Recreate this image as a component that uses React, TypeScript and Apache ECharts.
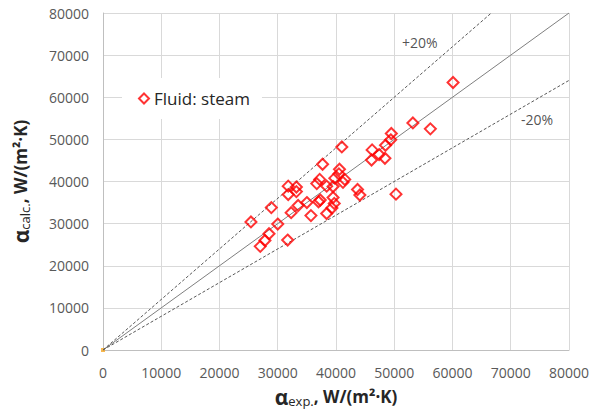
import React, { useEffect, useRef } from "react";
import * as echarts from "echarts";

// Measured vs. calculated heat transfer coefficient, steam
const expAlpha = [
  60100, 53200, 56200, 49500, 49400, 48500, 46200, 47400, 46100, 48400,
  50300, 41000, 37700, 40600, 40500, 41500, 39800, 41200, 37200, 36700,
  38400, 39500, 43700, 44100, 31800, 33200, 31800, 33200, 37300, 35000,
  39500, 39700, 37000, 33500, 32300, 35700, 38400, 39300, 28900, 25400,
  30000, 28500, 27800, 27000, 31700,
];
const calcAlpha = [
  63500, 53900, 52500, 51400, 49900, 48600, 47500, 46400, 45100, 45500,
  37000, 48200, 44100, 42900, 41800, 40500, 40800, 39800, 40500, 39500,
  38900, 38800, 38100, 36800, 38900, 38700, 36900, 37600, 35600, 35000,
  36200, 34800, 35200, 34300, 32600, 31900, 32400, 33700, 33800, 30400,
  29900, 27600, 26000, 24600, 26100,
];

const axisMax = 80000;
const axisStep = 10000;
const deviation = 0.2;
const bandLabels = ["+20%", "-20%"];
const bandLabelAt: [number, number][] = [
  [54400, 73000],
  [74500, 54800],
];

const FONT = "'Open Sans', 'DejaVu Sans', sans-serif";

export default function App() {
  const ref = useRef<HTMLDivElement>(null);

  useEffect(() => {
    if (!ref.current) return;
    const chart = echarts.init(ref.current, undefined, { renderer: "svg" });

    const points = expAlpha.map((x, i) => [x, calcAlpha[i]]);
    const upperEnd = [axisMax / (1 + deviation), axisMax];
    const lowerEnd = [axisMax, axisMax * (1 - deviation)];

    const axisNameRich = {
      a: { fontSize: 21, fontWeight: "bold", color: "#262626", fontFamily: FONT },
      s: {
        fontSize: 13,
        color: "#262626",
        fontFamily: FONT,
        verticalAlign: "bottom",
        padding: [6, 0, 0, 0],
      },
      b: { fontSize: 17, fontWeight: "bold", color: "#262626", fontFamily: FONT },
    };

    const commonAxis = {
      type: "value",
      min: 0,
      max: axisMax,
      interval: axisStep,
      axisLine: { show: true, lineStyle: { color: "#bfbfbf", width: 1 } },
      axisTick: { show: false },
      splitLine: { show: true, lineStyle: { color: "#d9d9d9", width: 1 } },
      axisLabel: {
        color: "#595959",
        fontSize: 14,
        fontFamily: FONT,
        formatter: (v: number) => String(v),
      },
      nameLocation: "middle",
    };

    chart.setOption({
      animation: false,
      backgroundColor: "#ffffff",
      grid: { left: 103, right: 23, top: 13, bottom: 62, containLabel: false },
      legend: {
        left: 122,
        top: 78,
        padding: [12, 12, 12, 16],
        backgroundColor: "#ffffff",
        data: [{ name: "Fluid: steam", icon: "diamond" }],
        itemWidth: 10,
        itemHeight: 10,
        itemGap: 6,
        textStyle: { fontSize: 17, color: "#262626", fontFamily: FONT },
      },
      xAxis: {
        ...commonAxis,
        axisLabel: { ...commonAxis.axisLabel, margin: 15 },
        name: "{a|α}{s|exp.}{b|, W/(m²·K)}",
        nameGap: 36,
        nameTextStyle: { rich: axisNameRich },
      },
      yAxis: {
        ...commonAxis,
        axisLabel: { ...commonAxis.axisLabel, margin: 14 },
        name: "{a|α}{s|calc.}{b|, W/(m²·K)}",
        nameGap: 72,
        nameTextStyle: { rich: axisNameRich },
      },
      series: [
        {
          name: "1:1",
          type: "line",
          data: [[0, 0], [axisMax, axisMax]],
          showSymbol: false,
          silent: true,
          lineStyle: { color: "#7f7f7f", width: 1 },
        },
        {
          name: "+20",
          type: "line",
          data: [[0, 0], upperEnd],
          showSymbol: false,
          silent: true,
          lineStyle: { color: "#595959", width: 1, type: [3, 2] },
        },
        {
          name: "-20",
          type: "line",
          data: [[0, 0], lowerEnd],
          showSymbol: false,
          silent: true,
          lineStyle: { color: "#595959", width: 1, type: [3, 2] },
        },
        {
          name: "origin",
          type: "scatter",
          data: [[0, 0]],
          symbol: "rect",
          symbolSize: 4,
          silent: true,
          itemStyle: { color: "#f5a623" },
        },
        {
          name: "Fluid: steam",
          type: "scatter",
          data: points,
          symbol: "diamond",
          symbolSize: 11,
          itemStyle: {
            color: "rgba(255,255,255,0)",
            borderColor: "#ff0000",
            borderWidth: 2,
          },
          z: 5,
        },
        {
          name: "bands",
          type: "scatter",
          data: bandLabelAt.map((p, i) => ({ value: p, name: bandLabels[i] })),
          symbolSize: 0,
          silent: true,
          label: {
            show: true,
            position: "inside",
            formatter: (p: any) => p.name,
            fontSize: 14,
            color: "#262626",
            fontFamily: FONT,
          },
        },
      ],
    });

    return () => chart.dispose();
  }, []);

  return (
    <div
      ref={ref}
      style={{ position: "fixed", left: 0, top: 0, width: 592, height: 412 }}
    />
  );
}
